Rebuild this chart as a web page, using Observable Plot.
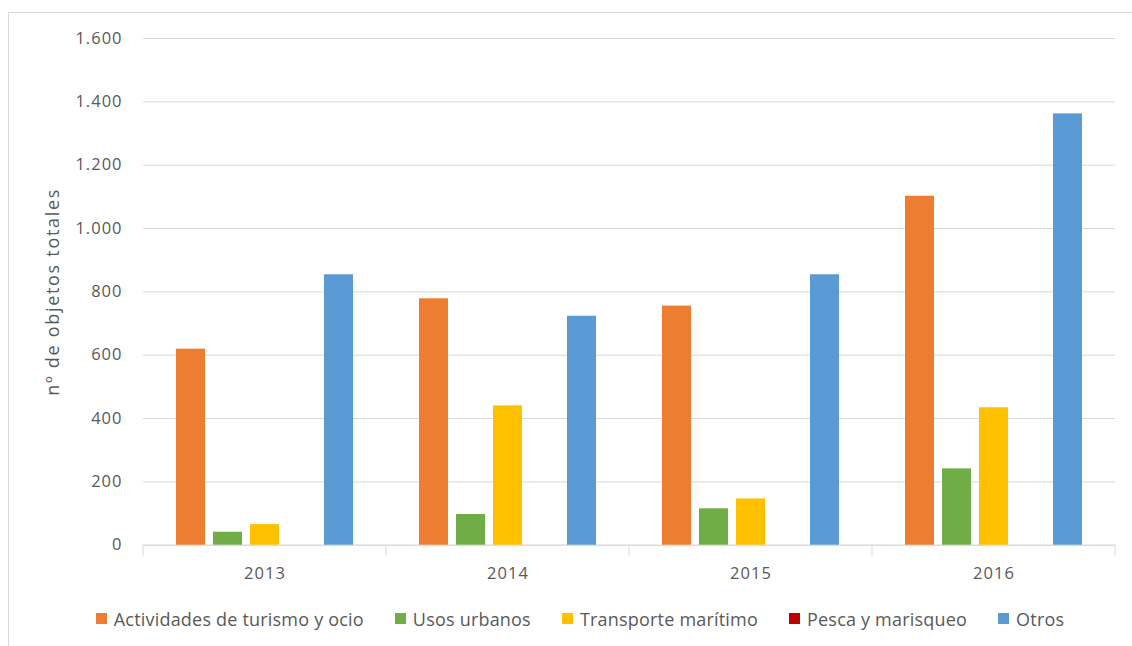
<!DOCTYPE html>
<html>
<head>
<meta charset="utf-8">
<script src="https://cdn.jsdelivr.net/npm/d3@7"></script>
<script src="https://cdn.jsdelivr.net/npm/@observablehq/plot@0.6"></script>
<style>
  html, body { margin: 0; padding: 0; background: #fff; }
  #wrap { position: relative; width: 1132px; height: 646px; overflow: hidden; font-family: "Open Sans", sans-serif; }
  #frame { position: absolute; left: 8px; top: 12px; width: 1200px; height: 700px; border: 1px solid #d9d9d9; pointer-events: none; box-sizing: border-box; }
  #chart svg { display: block; }
  g[aria-label="y-axis tick label"] text { letter-spacing: 1px; }
  g[aria-label="fx-axis tick label"] text { letter-spacing: 1.1px; }
  g[aria-label="y-axis label"] text { font-size: 18px; letter-spacing: 1.7px; }
  #legend { margin-top: 2px; padding-left: 28px; }
  .lg-swatches { justify-content: center !important; font-family: "Open Sans", sans-serif !important; font-size: 18px !important; letter-spacing: 0.2px; color: #595959 !important; min-height: 33px; }
  .lg-swatch { margin-right: 31px !important; }
  .lg-swatch:last-child { margin-right: 0 !important; }
  .lg-swatch > svg { margin-right: 7px !important; }
</style>
</head>
<body>
<div id="wrap">
  <div id="chart"></div>
  <div id="legend"></div>
  <div id="frame"></div>
</div>
<script>
// ---- data ----
const years = ["2013", "2014", "2015", "2016"];
const series = ["Actividades de turismo y ocio", "Usos urbanos", "Transporte marítimo", "Pesca y marisqueo", "Otros"];
const turismo = [619, 778, 755, 1102];
const urbanos = [41, 97, 115, 241];
const transporte = [65, 440, 146, 434];
const pesca = [0, 0, 0, 0];
const otros = [854, 723, 854, 1362];
const seriesColors = ["#ED7D31", "#70AD47", "#FFC000", "#C00000", "#5B9BD5"];
const yTicks = [0, 200, 400, 600, 800, 1000, 1200, 1400, 1600];
const yLabel = "nº de objetos totales";

const valuesBySeries = [turismo, urbanos, transporte, pesca, otros];
const table = [];
years.forEach((yr, i) => {
  series.forEach((s, j) => table.push({year: yr, series: s, value: valuesBySeries[j][i]}));
});

const fmt = d3.formatLocale({decimal: ",", thousands: ".", grouping: [3], currency: ["", "€"]}).format(",d");

const chart = Plot.plot({
  width: 1132,
  height: 600,
  marginLeft: 143,
  marginRight: 17,
  marginTop: 38,
  marginBottom: 55.3,
  fx: {domain: years, padding: 0, label: null},
  x: {domain: series, paddingInner: 0.22, paddingOuter: 0.85, axis: null},
  y: {domain: [0, 1600]},
  color: {domain: series, range: seriesColors},
  style: {fontFamily: "Open Sans, sans-serif", color: "#595959", background: "transparent", overflow: "visible"},
  marks: [
    Plot.gridY(yTicks, {stroke: "#d9d9d9", strokeOpacity: 1}),
    Plot.ruleY([0], {stroke: "#d9d9d9"}),
    Plot.barY(table, {fx: "year", x: "series", y: "value", fill: "series"}),
    Plot.axisY(yTicks, {
      tickSize: 0, tickPadding: 21, tickFormat: fmt, fontSize: 16.5,
      label: yLabel, labelAnchor: "center", labelOffset: 97, labelArrow: "none"
    }),
    Plot.axisFx({anchor: "bottom", tickSize: 0, tickPadding: 22, fontSize: 16.5, label: null})
  ]
});

// category separator ticks on the baseline, positioned via the plot's scales
const fxs = chart.scale("fx");
const ys = chart.scale("y");
const edges = years.map(d => fxs.apply(d));
edges.push(fxs.apply(years[years.length - 1]) + fxs.bandwidth);
const y0 = ys.apply(0);
d3.select(chart).append("g")
  .attr("stroke", "#d9d9d9")
  .selectAll("line")
  .data(edges)
  .join("line")
  .attr("x1", d => d).attr("x2", d => d)
  .attr("y1", y0).attr("y2", y0 + 11);

document.getElementById("chart").appendChild(chart);

const legend = chart.legend("color", {className: "lg", swatchSize: 11});
document.getElementById("legend").appendChild(legend);
</script>
</body>
</html>
